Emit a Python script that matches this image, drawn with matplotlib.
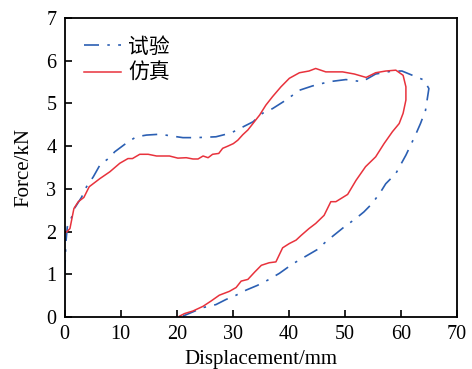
import matplotlib
matplotlib.use("Agg")
import matplotlib.pyplot as plt

plt.rcParams['font.family'] = ['Liberation Serif', 'Noto Sans CJK SC']
plt.rcParams['mathtext.fontset'] = 'stix'

# Experiment (试验)
exp_x = [0.0, 0.23, 0.47, 1.25, 1.83, 3.0, 3.9, 5.1, 6.3, 7.8, 8.95, 11.3, 12.8, 14.6, 17.0, 19.0,
         21.1, 23.5, 27.0, 29.7, 31.8, 33.6, 35.3, 37.1, 39.5, 41.9, 44.2, 47.2, 50.2, 53.1, 55.5,
         58.5, 60.2, 64.1, 65.0, 64.4, 63.5, 62.6, 60.9, 59.1, 57.3, 56.4, 54.9, 53.4, 52.0, 49.9,
         46.6, 45.1, 43.4, 41.3, 39.8, 38.3, 36.2, 34.4, 32.4, 30.6, 28.8, 27.0, 24.7, 22.9, 21.1]
exp_y = [0.98, 1.76, 2.11, 2.34, 2.56, 2.80, 3.05, 3.28, 3.56, 3.71, 3.87, 4.10, 4.22, 4.26, 4.28, 4.24,
         4.20, 4.20, 4.22, 4.31, 4.45, 4.57, 4.77, 4.88, 5.08, 5.31, 5.41, 5.51, 5.56, 5.51, 5.69,
         5.76, 5.76, 5.55, 5.35, 4.84, 4.53, 4.26, 3.79, 3.36, 3.12, 2.93, 2.66, 2.46, 2.31, 2.11,
         1.76, 1.58, 1.45, 1.29, 1.16, 1.02, 0.86, 0.74, 0.63, 0.51, 0.41, 0.29, 0.22, 0.12, 0.02]

# Simulation (仿真)
sim_x = [0.35, 0.94, 1.65, 2.43, 3.43, 4.38, 6.28, 8.06, 9.84, 11.3, 12.1, 13.4, 14.9, 16.4, 18.7,
         20.2, 21.7, 22.9, 23.8, 24.7, 25.6, 26.4, 27.5, 28.2, 29.1, 30.1, 30.9, 31.8, 32.7, 33.6,
         34.8, 35.9, 37.1, 38.6, 40.1, 41.9, 43.6, 44.8, 46.6, 49.6, 51.7, 53.8, 55.5, 57.3, 59.1,
         60.4, 60.9, 60.9, 60.4, 59.7, 58.5, 57.0, 55.5, 53.7, 52.0, 50.5, 48.4, 47.5, 46.3, 44.8,
         43.6, 42.2, 41.3, 40.1, 38.9, 37.7, 36.5, 35.1, 33.9, 32.7, 31.5, 30.6, 29.4, 27.6, 26.2,
         24.7, 22.9, 21.4, 20.5]
sim_y = [1.99, 2.07, 2.54, 2.70, 2.80, 3.05, 3.24, 3.40, 3.60, 3.71, 3.71, 3.81, 3.81, 3.77, 3.77,
         3.72, 3.73, 3.70, 3.70, 3.77, 3.73, 3.81, 3.83, 3.95, 4.00, 4.06, 4.14, 4.27, 4.38, 4.53,
         4.73, 4.96, 5.16, 5.39, 5.59, 5.72, 5.76, 5.82, 5.74, 5.74, 5.69, 5.61, 5.72, 5.76, 5.78,
         5.66, 5.39, 5.08, 4.77, 4.53, 4.34, 4.06, 3.75, 3.52, 3.20, 2.87, 2.70, 2.70, 2.38, 2.19,
         2.07, 1.91, 1.80, 1.72, 1.62, 1.29, 1.27, 1.21, 1.05, 0.88, 0.84, 0.69, 0.60, 0.51, 0.38,
         0.25, 0.14, 0.08, 0.02]

x_ticks = [0, 10, 20, 30, 40, 50, 60, 70]
y_ticks = [0, 1, 2, 3, 4, 5, 6, 7]

fig = plt.figure(figsize=(4.72, 3.69), dpi=100)
ax = fig.add_axes([0.137, 0.141, 0.831, 0.810])

ax.plot(exp_x, exp_y, color='#2b5fb3', lw=1.2, dashes=(9, 5, 1.5, 5), label='试验')
ax.plot(sim_x, sim_y, color='#e8323c', lw=1.1, label='仿真')

ax.set_xlim(0, 70)
ax.set_ylim(0, 7)
ax.set_xticks(x_ticks)
ax.set_yticks(y_ticks)
ax.tick_params(direction='in', length=5, width=1.2, labelsize=14.5, top=False, right=False, pad=6)
for s in ax.spines.values():
    s.set_linewidth(1.3)

ax.set_xlabel('Displacement/mm', fontsize=15, labelpad=4)
ax.set_ylabel('Force/kN', fontsize=15, labelpad=9)

leg = ax.legend(loc='upper left', frameon=False, fontsize=15, handlelength=1.75,
                bbox_to_anchor=(0.0, 1.0), borderaxespad=0.55, labelspacing=0.3,
                handletextpad=0.35)

fig.savefig('out.png', dpi=100)
